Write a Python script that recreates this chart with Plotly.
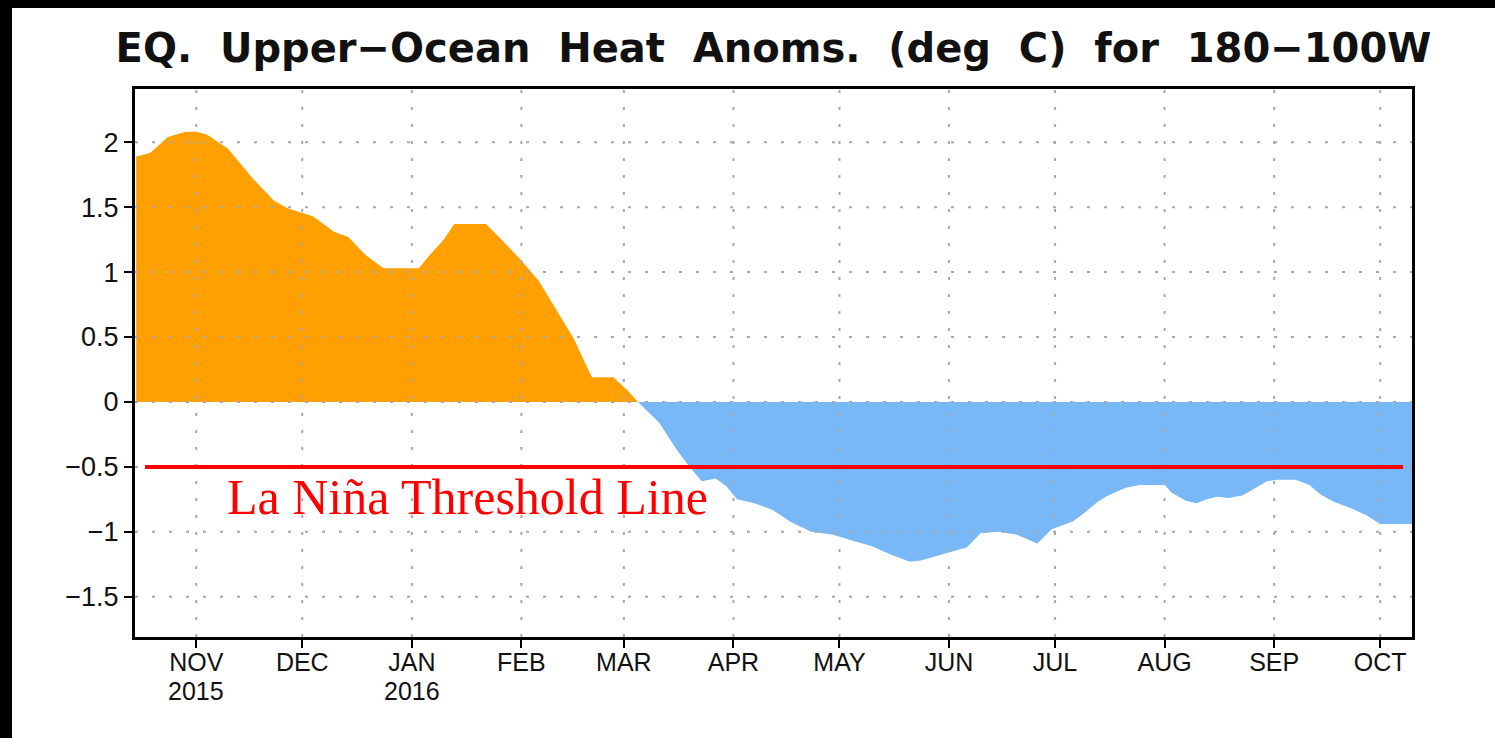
import plotly.graph_objects as go

# ---- data ----
dates = [
    "2015-10-15", "2015-10-19", "2015-10-24", "2015-10-29", "2015-11-01", "2015-11-04",
    "2015-11-10", "2015-11-17", "2015-11-23", "2015-11-27", "2015-12-04", "2015-12-10",
    "2015-12-14", "2015-12-19", "2015-12-24", "2016-01-03", "2016-01-06", "2016-01-10",
    "2016-01-13", "2016-01-22", "2016-01-26", "2016-02-01", "2016-02-06", "2016-02-11",
    "2016-02-16", "2016-02-19", "2016-02-21", "2016-02-27", "2016-03-02", "2016-03-05",
    "2016-03-11", "2016-03-16", "2016-03-19", "2016-03-23", "2016-03-27", "2016-03-30",
    "2016-04-02", "2016-04-07", "2016-04-12", "2016-04-17", "2016-04-23", "2016-04-29",
    "2016-05-05", "2016-05-10", "2016-05-16", "2016-05-21", "2016-05-24", "2016-05-29",
    "2016-06-02", "2016-06-06", "2016-06-10", "2016-06-15", "2016-06-20", "2016-06-26",
    "2016-06-30", "2016-07-02", "2016-07-06", "2016-07-09", "2016-07-13", "2016-07-16",
    "2016-07-21", "2016-07-25", "2016-08-01", "2016-08-03", "2016-08-07", "2016-08-10",
    "2016-08-13", "2016-08-16", "2016-08-19", "2016-08-23", "2016-08-27", "2016-08-30",
    "2016-09-02", "2016-09-07", "2016-09-11", "2016-09-14", "2016-09-18", "2016-09-22",
    "2016-09-27", "2016-10-01", "2016-10-10",
]
anom = [
    1.89, 1.92, 2.04, 2.08, 2.08, 2.06,
    1.95, 1.72, 1.55, 1.49, 1.43, 1.31,
    1.27, 1.13, 1.03, 1.03, 1.13, 1.25,
    1.37, 1.37, 1.26, 1.09, 0.93, 0.71,
    0.48, 0.30, 0.19, 0.19, 0.09, 0.00,
    -0.16, -0.37, -0.48, -0.61, -0.59, -0.65,
    -0.75, -0.78, -0.83, -0.92, -1.00, -1.02,
    -1.07, -1.11, -1.18, -1.23, -1.22, -1.18,
    -1.15, -1.12, -1.01, -1.00, -1.02, -1.09,
    -0.98, -0.96, -0.92, -0.86, -0.77, -0.72,
    -0.66, -0.64, -0.64, -0.70, -0.76, -0.78,
    -0.75, -0.73, -0.74, -0.72, -0.66, -0.61,
    -0.60, -0.60, -0.64, -0.71, -0.77, -0.81,
    -0.87, -0.94, -0.94,
]
month_ticks = ["2015-11-01", "2015-12-01", "2016-01-01", "2016-02-01", "2016-03-01",
               "2016-04-01", "2016-05-01", "2016-06-01", "2016-07-01", "2016-08-01",
               "2016-09-01", "2016-10-01"]
month_labels = ["NOV", "DEC", "JAN", "FEB", "MAR", "APR", "MAY",
                "JUN", "JUL", "AUG", "SEP", "OCT"]
year_ticks = ["2015-11-01", "2016-01-01"]
year_labels = ["2015", "2016"]
y_ticks = [-1.5, -1, -0.5, 0, 0.5, 1, 1.5, 2]
threshold = -0.5
title_text = "EQ.  Upper\u2212Ocean  Heat  Anoms.  (deg  C)  for  180\u2212100W"
threshold_label = "La Niña Threshold Line"

W, H = 1495, 738
ml, mr, mt, mb = 135, 83, 89, 101
pw, ph = W - ml - mr, H - mt - mb

pos = [v if v > 0 else 0 for v in anom]
neg = [v if v < 0 else 0 for v in anom]

fig = go.Figure()
fig.add_trace(go.Scatter(x=dates, y=pos, mode="lines", line=dict(width=0, color="#FFA000"),
                         fill="tozeroy", fillcolor="#FFA000", hoverinfo="skip", showlegend=False))
fig.add_trace(go.Scatter(x=dates, y=neg, mode="lines", line=dict(width=0, color="#78B8F6"),
                         fill="tozeroy", fillcolor="#78B8F6", hoverinfo="skip", showlegend=False))

shapes = []
grid = dict(color="#a8a8a8", width=2, dash="3px,14px")
for yv in y_ticks:
    shapes.append(dict(type="line", xref="paper", yref="y", x0=0, x1=1, y0=yv, y1=yv,
                       line=grid, layer="above"))
for d in month_ticks:
    shapes.append(dict(type="line", xref="x", yref="paper", x0=d, x1=d, y0=0, y1=1,
                       line=grid, layer="above"))
# threshold line
shapes.append(dict(type="line", xref="paper", yref="y", x0=10 / pw, x1=(1403 - ml) / pw,
                   y0=threshold, y1=threshold, line=dict(color="#FF0000", width=4), layer="above"))
# black border strips (top and left) of the screenshot
shapes.append(dict(type="rect", xref="paper", yref="paper", x0=-ml / pw, x1=(12 - ml) / pw,
                   y0=-mb / ph, y1=(H - mb) / ph, fillcolor="black", line=dict(width=0)))
shapes.append(dict(type="rect", xref="paper", yref="paper", x0=-ml / pw, x1=(W - ml) / pw,
                   y0=(H - mb - 8) / ph, y1=(H - mb) / ph, fillcolor="black", line=dict(width=0)))

annotations = [dict(text=threshold_label, xref="paper", yref="y", x=(225 - ml) / pw,
                    y=-0.73, xanchor="left", yanchor="middle", showarrow=False,
                    font=dict(family="Liberation Serif", size=50, color="#FF0000"))]
for d, t in zip(year_ticks, year_labels):
    annotations.append(dict(text=t, xref="x", yref="paper", x=d, y=-(691 - (H - mb)) / ph,
                            xanchor="center", yanchor="middle", showarrow=False,
                            font=dict(family="Liberation Sans", size=25, color="#111")))

fig.update_layout(
    width=W, height=H,
    margin=dict(l=ml, r=mr, t=mt, b=mb),
    paper_bgcolor="white", plot_bgcolor="white",
    title=dict(text=title_text, x=0.5, xref="paper", xanchor="center",
               y=1 - 48 / H, yref="container", yanchor="middle",
               font=dict(family="DejaVu Sans", size=40, color="#111", weight="bold")),
    shapes=shapes,
    annotations=annotations,
    xaxis=dict(type="date", range=["2015-10-14 16:00", "2016-10-10"],
               tickvals=month_ticks, ticktext=month_labels,
               showgrid=False, zeroline=False,
               showline=True, mirror=True, linecolor="black", linewidth=3,
               ticks="outside", ticklen=8, tickwidth=2, tickcolor="black",
               ticklabelstandoff=-7,
               tickfont=dict(family="Liberation Sans", size=25, color="#111")),
    yaxis=dict(range=[-1.81, 2.41], tickvals=y_ticks,
               showgrid=False, zeroline=False,
               showline=True, mirror=True, linecolor="black", linewidth=3,
               ticks="outside", ticklen=8, tickwidth=2, tickcolor="black",
               tickfont=dict(family="Liberation Sans", size=27, color="#111")),
)

fig.write_html("out.html", post_script="document.body.style.margin='0';",
               config={"displayModeBar": False})
